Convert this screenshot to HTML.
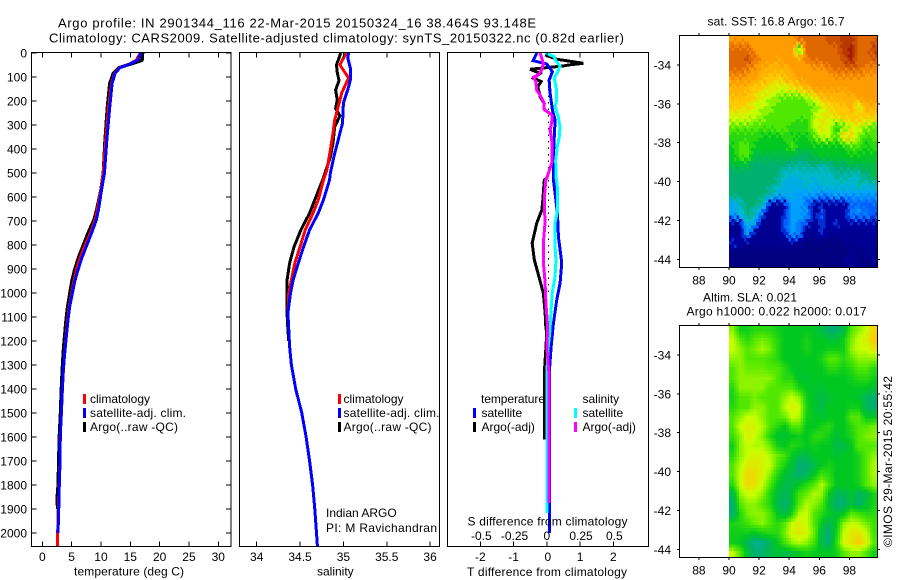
<!DOCTYPE html>
<html>
<head>
<meta charset="utf-8">
<title>Argo profile</title>
<style>
html,body{margin:0;padding:0;background:#fff;}
svg{display:block;}
text{font-family:"Liberation Sans",Arial,sans-serif;font-size:12px;fill:#000;}
</style>
</head>
<body>
<svg id="fig" xmlns="http://www.w3.org/2000/svg" width="900" height="580" viewBox="0 0 900 580">
  <rect x="0" y="0" width="900" height="580" fill="#fff"/>
  <text x="58" y="27.5" style="font-size:13px" textLength="478" lengthAdjust="spacing">Argo profile: IN 2901344_116 22-Mar-2015 20150324_16 38.464S 93.148E</text>
  <text x="49" y="42.5" style="font-size:13px" textLength="575" lengthAdjust="spacing">Climatology: CARS2009. Satellite-adjusted climatology: synTS_20150322.nc (0.82d earlier)</text>

  <g id="panelT"></g>
  <g id="panelS"></g>
  <g id="panelD"></g>
  <g id="mapSST"></g>
  <g id="mapSLA"></g>

  <text x="74" y="575.5" textLength="110" lengthAdjust="spacing">temperature (deg C)</text>
  <text x="317" y="575.5">salinity</text>
  <text x="467" y="576" textLength="160" lengthAdjust="spacing">T difference from climatology</text>
  <text x="467.5" y="525.5" textLength="160" lengthAdjust="spacing">S difference from climatology</text>

  <g>
    <rect x="83" y="394" width="3" height="10" fill="#f00"/>
    <text x="90" y="403">climatology</text>
    <rect x="83" y="408" width="3" height="10" fill="#00f"/>
    <text x="90" y="417" textLength="96" lengthAdjust="spacing">satellite-adj. clim.</text>
    <rect x="83" y="422" width="3" height="10" fill="#000"/>
    <text x="90" y="431" textLength="88" lengthAdjust="spacing">Argo(..raw -QC)</text>
  </g>
  <g>
    <rect x="338" y="394" width="3" height="10" fill="#f00"/>
    <text x="343.5" y="403">climatology</text>
    <rect x="338" y="408" width="3" height="10" fill="#00f"/>
    <text x="343.5" y="417" textLength="96" lengthAdjust="spacing">satellite-adj. clim.</text>
    <rect x="338" y="422" width="3" height="10" fill="#000"/>
    <text x="343.5" y="431" textLength="88" lengthAdjust="spacing">Argo(..raw -QC)</text>
  </g>
  <text x="326" y="517">Indian ARGO</text>
  <text x="326" y="532" textLength="111" lengthAdjust="spacing">PI: M Ravichandran</text>

  <g>
    <text x="481" y="403" textLength="64" lengthAdjust="spacing">temperature</text>
    <rect x="473" y="408" width="3" height="10" fill="#00f"/>
    <text x="481.5" y="417">satellite</text>
    <rect x="473" y="422" width="3" height="10" fill="#000"/>
    <text x="481.5" y="431">Argo(-adj)</text>
    <text x="582.5" y="403">salinity</text>
    <rect x="574" y="408" width="3" height="10" fill="#0ff"/>
    <text x="582.5" y="417">satellite</text>
    <rect x="574" y="422" width="3" height="10" fill="#f0f"/>
    <text x="582.5" y="431">Argo(-adj)</text>
  </g>

  <text x="707.5" y="25.5" textLength="137" lengthAdjust="spacing">sat. SST: 16.8 Argo: 16.7</text>
  <text x="703" y="301.5" textLength="94" lengthAdjust="spacing">Altim. SLA: 0.021</text>
  <text x="686.5" y="315.5" textLength="180" lengthAdjust="spacing">Argo h1000: 0.022 h2000: 0.017</text>
  <text transform="translate(892,547) rotate(-90)" textLength="171" lengthAdjust="spacing">©IMOS 29-Mar-2015 20:55:42</text>
</svg>

<script>
// ---------- profile data (depth in m) ----------
const depthTicks = [0,100,200,300,400,500,600,700,800,900,1000,1100,1200,1300,1400,1500,1600,1700,1800,1900,2000];
const tempTicks = [0,5,10,15,20,25,30];
const salTicks = [34,34.5,35,35.5,36];
const salTickLabels = ["34","34.5","35","35.5","36"];
const diffTicks = [-2,-1,0,1,2];
const sDiffTickLabels = ["-0.5","-0.25","0","0.25","0.5"];
const lonTicks = [88,90,92,94,96,98];
const latTicks = [34,36,38,40,42,44];

const tempArgoDepth = [0,30,42,50,62,85,127,224,361,500,570,650,696,750,800,850,904,950,1008,1060,1112,1237,1320,1400,1500,1600,1700,1800,1850,1900];
const tempArgo = [17.1,17.0,15.6,14.5,13.0,12.1,11.5,11.1,10.7,10.4,10,9.3,8.8,7.8,7.0,6.2,5.5,5.05,4.65,4.3,4.05,3.6,3.4,3.25,3.1,2.9,2.8,2.7,2.55,2.6];
const tempClimDepth = [0,30,45,62,85,127,224,361,500,570,650,696,750,800,850,904,950,1008,1060,1112,1237,1320,1400,1500,1600,1700,1800,1900,2000,2054];
const tempClim = [16.7,16.0,14.9,13.1,12.3,11.8,11.3,10.8,10.4,10,9.4,9.0,8.2,7.3,6.5,5.8,5.4,4.95,4.55,4.3,3.85,3.6,3.43,3.26,3.05,3.0,2.88,2.72,2.62,2.6];
const tempSatDepth = [0,30,45,62,85,127,224,361,500,570,650,696,750,800,850,904,950,1008,1060,1112,1237,1320,1400,1500,1600,1700,1800,1900,2000];
const tempSat = [16.8,16.3,15,13.2,12.4,11.9,11.5,11,10.6,10.1,9.6,9.2,8.4,7.6,6.8,6.08,5.55,5.06,4.65,4.38,3.87,3.58,3.41,3.24,3.07,3.02,2.9,2.8,2.68];

const salArgoDepth = [0,50,83,115,154,196,231,262,307,375,432,520,529,612,667,737,808,875,946,1000,1083,1154,1200];
const salArgo = [34.97,34.92,34.93,34.95,34.91,34.93,34.91,34.96,34.9,34.88,34.85,34.77,34.76,34.67,34.61,34.51,34.43,34.38,34.35,34.35,34.35,34.36,34.37];
const salClimDepth = [0,50,104,167,224,279,333,404,487,529,612,667,737,808,875,946,1000,1083,1154,1225];
const salClim = [35.03,34.96,35.06,34.98,34.94,34.9,34.88,34.85,34.81,34.77,34.71,34.65,34.56,34.5,34.44,34.4,34.37,34.36,34.37,34.38];
const salSatDepth = [0,20,63,113,154,208,292,362,433,500,529,612,667,737,808,875,946,1000,1083,1154,1225,1300,1400,1500,1600,1700,1800,1900,2000,2054];
const salSat = [35.06,35.05,35.08,35.08,35.05,35.0,34.99,34.94,34.89,34.85,34.84,34.77,34.71,34.61,34.54,34.48,34.42,34.39,34.36,34.37,34.38,34.40,34.45,34.52,34.57,34.61,34.645,34.67,34.69,34.70];

const dTempArgoDepth = [8,26,43,50,54,68,85,105,119,140,182,210,235,258,279,321,362,418,460,522,529,612,654,708,792,862,933,1000,1083,1142,1167,1335,1610];
const dTempArgo = [-0.05,0.30,1.10,0.65,0.5,-0.5,-0.2,-0.4,-0.17,-0.27,-0.2,-0.08,-0.08,0.15,0.16,0.10,0.15,0.16,0.15,0,-0.075,-0.12,-0.15,-0.30,-0.44,-0.375,-0.235,-0.105,-0.05,-0.03,0,-0.075,-0.075];
const dTempSatDepth = [0,32,46,78,113,168,238,279,362,432,515,529,667,766,875,958,1029,1125,1225,1320,1700,2000];
const dTempSat = [-0.30,-0.41,0,0.17,0.07,0.10,0.17,0.25,0.22,0.2,0.2,0.2,0.32,0.35,0.45,0.40,0.30,0.2,0.13,0.08,0.08,0.08];
const dSalSatDepth = [0,15,32,54,74,105,154,196,224,265,307,349,390,446,515,570,654,708,808,862,933,1000,1071,1154,1225,1335,1917];
const dSalSat = [-0.0135,0.056,0.067,0.099,0.086,0.056,0.074,0.074,0.062,0.086,0.099,0.094,0.079,0.067,0.069,0.082,0.082,0.062,0.062,0.069,0.062,0.041,0.032,0.024,0.011,0,0];
const dSalArgoDepth = [0,43,71,92,101,119,154,182,210,235,258,279,321,362,418,460,522,529,612,708,792,871,950,1050,1142,1225,1340,1875];
const dSalArgo = [-0.051,-0.026,-0.038,-0.068,-0.1,-0.083,-0.076,-0.044,-0.019,-0.021,0.037,0.041,0.024,0.037,0.041,0.037,0,-0.008,-0.019,-0.0135,-0.026,-0.026,-0.0135,-0.006,0.007,0,0.017,0.017];

// ---------- map data: colour-scale level per cell, north to south, west to east ----------
const sstLevels = [
[10,10,10,10,10,10,10,10,10,11,11,11,11,11.5,11.5,12,12,11,11,11],
[11,11,11,10,10,10,10,10,10,6.5,11,11,11,11,11,12,12.5,11,11,12],
[11,11,11.5,11,10,10,9.7,10,10,10,10.5,11,11,11,11,11.5,12.5,11,11,11],
[11,11,10.5,10,9.7,9.5,9.5,9.5,9.8,10,10,10,10,10.5,11,11,11,11,10.5,10.5],
[10,10,10,9.8,9.5,9,8.8,9.2,9.5,9.8,10,10,10,10,10,10,10,10,10,10],
[9.6,9.6,9.4,9,8.7,8.5,8.2,8.2,8.5,9,9.4,9.8,10,9.8,10,9.8,10,10,10,10],
[9.2,9.2,9,8.7,8.2,7.8,7.5,7,7,7,7.5,8.3,9.2,9.3,9.3,9.3,9.5,9.8,10,10],
[8.8,8.8,8.7,8.2,7.8,7.5,7,7,7,7,7,7,8,8.7,9.2,9.2,9.3,8,9.5,9.5],
[8.2,8.2,8.2,7.8,7.5,7,7,7,7,6.8,6.8,7.8,8.3,8.3,8.7,9,9.2,9.2,9,9],
[7.2,7,7,7,7,7,7.2,7,6.5,6.5,6.5,8,8.5,8,6.5,7,8,8,7.5,7],
[6.5,6.5,6.5,6.5,6.2,6,6,6.5,6.2,6.2,6.2,7,8,8,7,9,9,7.5,6.5,7],
[6.2,7,7,6.2,6,6,6,6,7,6,6,6,6,6,6.2,6.2,7,7,6.2,6.5],
[6,7,7,5.5,5.5,5.5,5.5,5.5,5.5,5.2,5.2,5.5,6,6,6,6,6,6,6,6],
[5.5,5.5,5.5,5,5,5,5,4.8,4.5,4.5,4.5,5,4.2,4.5,5,5,5.5,5.5,5.5,5.5],
[5,5,5,5,5,5,4.8,4,3.8,3.8,4,3.8,4,4,4.5,4.5,4.2,4.2,4.8,5.5],
[5,5,5,5,5,4.8,4.5,3.5,3.5,3.5,4,3.5,3.8,4,4,3.8,3.8,4.3,4,3.8],
[5,5,5,5,4.8,4.5,3.5,3.5,3.5,3,3,3,2.5,2.8,3,3,3,3,2.8,3],
[3,4,5,4.8,4.5,1,0.5,1,3,3,2,1,1,1,1,0.7,2,2,2,2],
[3,3.8,4.8,4.2,2,0.5,0.5,1.5,3,3,3,1,2,0.8,0.8,1,2.5,2.8,2.5,2],
[0.5,0.8,4,3,0.5,0.5,0.5,2,3,2.5,1.5,1,1.5,1,1.5,1,1,1,1,1],
[0.5,0.8,3,0.6,0.5,0.5,0.5,1.5,3,2.5,0.5,0.5,1.5,0.5,0.5,0.5,0.5,0.5,0.7,1],
[1.5,1,0.5,0.5,0.5,0.5,0.5,0.7,0.7,0.5,0,0,0,0,0,0.3,0.3,0.5,0.3,0.5],
[0,0,0,0,0,0,0,0,0,0,0,0,0,0.3,0,0,0.3,0,0.5,0.3],
[0,0,0,0,0,0,0,0,0,0,0,0,0,0,0,0.3,0.5,0.3,0,0.3]
];
const slaLevels = [
[7.5,6.2,6.2,6.5,6.5,6.5,6.2,6,6,6,6,6,5.5,5,5,5.5,7,7.5,8,8.8],
[8,7,6.5,7,7.3,7,6.5,6,6,6,6.3,6,6,5.7,5.7,6.2,7.3,8,8.3,9],
[8,7.5,7,7.3,7.7,7.3,6.5,6,6,6,6.3,6,6,6.2,6.2,6.2,7.5,8,8,8.5],
[7.5,7.5,7,7,7,6.8,6.5,6,6,6,6,6,6.3,7,7,6.5,7,7.5,7.5,7.5],
[7,7.5,7.2,7.2,7.2,7,7,6.5,6,5.8,6,6,6,6.5,6.5,6.2,6.5,7,7,6.5],
[7,7.5,7.5,7.5,7.5,7.5,7,6.5,6.5,5.8,5.8,6,6,6,6,6,6.2,6.5,6.5,6.2],
[6.5,7.5,7.5,7.5,7.5,7,7,7,7,6.3,6,5.8,5.8,6,6,6,6,6,6,5.7],
[6.3,7,7,7.3,7,7,7,7.5,8,7.5,6.2,5.8,5.5,5.8,6,6,6,5.8,5.3,5],
[6.5,7,7,7.5,7.5,7,7,7.8,8.3,8,6.3,5.8,5.5,6,6,6,6.2,6.2,5.3,5],
[7,7.5,8,8,7.5,7,7,7.2,8,7.8,6.2,6,5.8,6,6,6,7,7,6,6],
[7,8,8.3,8.2,7.8,7,6.5,6,7,7,6,6,6.3,6.5,6,6,6.5,7,7,7.3],
[6.7,7.5,8.3,8,7.5,6.5,5.8,5.8,6,6.2,6,6.5,6.5,6.2,5.7,6,6.3,7,7.3,7.5],
[6.2,7.5,8,7.8,7.8,7.3,6.3,6,6.5,6.3,6,6.2,6,6,5.5,5.5,6,7,7,7],
[6.5,7.5,8,8.2,8.2,7.8,7.2,6.8,6,5.5,5.5,6,6,6,5.7,6,6,6.3,7,7.5],
[7,7.8,8.4,8.4,8.2,8,7,6.3,5.7,5,5,5.5,6,6.3,6,6,6,6.3,7,7.8],
[7,8,8.7,8.7,8.2,7.5,6.5,5.7,5.5,5,5.3,6,6.8,6.5,6,6,6,6.3,7,7.8],
[6.5,8,8.7,8.5,8,7,6,5.5,5.5,6,6.5,7,7.8,6.8,6,6,6,6.2,7,7.5],
[5.3,7.5,8,8,7.5,6.5,5.7,5.2,5.8,6.8,7.2,7.8,7.5,6,5.3,5.3,5.8,5.3,5.5,6.3],
[5,7,7.5,7.5,7,6.5,5.5,5,5.7,7,7.8,7.5,7,5.7,5,5,5.7,5,5.7,6.3],
[5,6.5,7.3,7.5,7.5,7,6,5.5,6.3,7.8,8,7,6.5,6,5.7,6,7,6.8,6.5,6.5],
[6.3,6.5,6.8,7.2,7.5,7,6.5,7,8,8.3,8,7,6,5.3,6,7.5,8,7.8,7.3,6.8],
[6.2,6.2,6.2,6,6.3,6.5,6.5,7.3,8.2,8.4,8.2,7.2,5.5,5,6.2,8,8.4,8.5,8,6.8],
[6.2,6,5.3,4.7,4.7,5.3,6,6.8,7.5,7.8,7.5,6.8,5.5,5,6.5,8.2,8.5,8.9,8.3,7],
[8,7,5.7,5,5,5.5,5.7,5.5,5.7,6,6.3,6,6,6,6.2,7,7.5,7.5,7,6.2]
];
const levelColors = ["#000080","#0000a0","#0060ff","#00a0ff","#00b8c8","#00b070","#00c820","#50e800","#c8ff00","#ffc800","#ff9c00","#e06800","#b83800","#900000"];

// ---------- axis functions ----------
function yDepth(d){ return 53 + 0.24*d; }
function xTemp(t){ return 42.3 + 5.867*t; }
function xSal(s){ return 256.7 + 86.7*(s-34); }
function xDiffT(v){ return 546.8 + 33.25*v; }
function xDiffS(v){ return 546.8 + 133*v; }
function xLon(l){ return 729 + 15.05*(l-90); }
function ySST(l){ return 65 + 19.43*(l-34); }
function ySLA(l){ return 355 + 19.43*(l-34); }

const NS = "http://www.w3.org/2000/svg";
function mk(parent, tag, attrs){
  const el = document.createElementNS(NS, tag);
  for (const k in attrs) el.setAttribute(k, attrs[k]);
  parent.appendChild(el);
  return el;
}
function hexRgb(h){ return [parseInt(h.slice(1,3),16),parseInt(h.slice(3,5),16),parseInt(h.slice(5,7),16)]; }
function levelColor(v){
  const m = Math.max(0, Math.min(levelColors.length-1.001, v));
  const i = Math.floor(m), f = m-i;
  const a = hexRgb(levelColors[i]), b = hexRgb(levelColors[i+1]);
  return "rgb("+Math.round(a[0]+(b[0]-a[0])*f)+","+Math.round(a[1]+(b[1]-a[1])*f)+","+Math.round(a[2]+(b[2]-a[2])*f)+")";
}
function drawLabel(parent, str, x, y, anchor, name){
  const t = mk(parent, "text", {x:x, y:y, "text-anchor":anchor});
  
  
  t.textContent = str;
  return t;
}
function drawTick(parent, x1, y1, x2, y2, name){
  const l = mk(parent, "line", {x1:x1, y1:y1, x2:x2, y2:y2, stroke:"#000", "stroke-width":1, "shape-rendering":"crispEdges"});
  
  
}
function drawFrame(parent, x, y, w, h){
  const r = mk(parent, "rect", {x:x, y:y, width:w, height:h, fill:"none", stroke:"#000", "stroke-width":1, "shape-rendering":"crispEdges"});
  
  
}
function drawProfile(parent, depths, values, xFn, color, width, name){
  const pts = depths.map(function(d,i){ return xFn(values[i]).toFixed(2)+","+yDepth(d).toFixed(2); }).join(" ");
  const p = mk(parent, "polyline", {points:pts, fill:"none", stroke:color, "stroke-width":width, "stroke-linejoin":"miter", "shape-rendering":"crispEdges"});
  
  
}

const TOP = 52.5, BOT = 546.5;

// ---------- temperature panel ----------
(function(){
  const g = document.getElementById("panelT");
  drawProfile(g, tempArgoDepth, tempArgo, xTemp, "#000", 3.4, "temperature-argo-line");
  drawProfile(g, tempClimDepth, tempClim, xTemp, "#f00", 3, "temperature-climatology-line");
  drawProfile(g, tempSatDepth, tempSat, xTemp, "#00f", 3, "temperature-satellite-line");
  drawFrame(g, 31.5, TOP, 199.5, BOT-TOP);
  depthTicks.forEach(function(d){
    const y = yDepth(d);
    drawTick(g, 31.5, y, 36.5, y, "depth-tick-left");
    drawTick(g, 231, y, 226, y, "depth-tick-right");
    drawLabel(g, String(d), 27, y+4.5, "end", "depth-tick-label");
  });
  tempTicks.forEach(function(t){
    const x = xTemp(t);
    drawTick(g, x, TOP, x, TOP+5, "temperature-tick-top");
    drawTick(g, x, BOT, x, BOT-5, "temperature-tick-bottom");
    drawLabel(g, String(t), x, 561, "middle", "temperature-tick-label");
  });
})();

// ---------- salinity panel ----------
(function(){
  const g = document.getElementById("panelS");
  drawProfile(g, salArgoDepth, salArgo, xSal, "#000", 3, "salinity-argo-line");
  drawProfile(g, salClimDepth, salClim, xSal, "#f00", 3, "salinity-climatology-line");
  drawProfile(g, salSatDepth, salSat, xSal, "#00f", 3, "salinity-satellite-line");
  drawFrame(g, 239.5, TOP, 200, BOT-TOP);
  salTicks.forEach(function(s,i){
    const x = xSal(s);
    drawTick(g, x, TOP, x, TOP+5, "salinity-tick-top");
    drawTick(g, x, BOT, x, BOT-5, "salinity-tick-bottom");
    drawLabel(g, salTickLabels[i], x, 561, "middle", "salinity-tick-label");
  });
})();

// ---------- difference panel ----------
(function(){
  const g = document.getElementById("panelD");
  const z = mk(g, "line", {x1:xDiffT(0)+1.5, y1:yDepth(150), x2:xDiffT(0)+1.5, y2:yDepth(1000), stroke:"#000", "stroke-width":1, "stroke-dasharray":"1.5 5", "shape-rendering":"crispEdges"});
  
  
  drawProfile(g, dTempArgoDepth, dTempArgo, xDiffT, "#000", 3, "t-difference-argo-line");
  drawProfile(g, dTempSatDepth, dTempSat, xDiffT, "#00f", 3, "t-difference-satellite-line");
  drawProfile(g, dSalSatDepth, dSalSat, xDiffS, "#0ff", 3, "s-difference-satellite-line");
  drawProfile(g, dSalArgoDepth, dSalArgo, xDiffS, "#f0f", 3, "s-difference-argo-line");
  drawFrame(g, 447.5, TOP, 201, BOT-TOP);
  diffTicks.forEach(function(v,i){
    const x = xDiffT(v);
    drawTick(g, x, TOP, x, TOP+5, "difference-tick-top");
    drawTick(g, x, BOT, x, BOT-5, "difference-tick-bottom");
    drawLabel(g, String(v), x+(v===0?1:0), 561, "middle", "t-difference-tick-label");
    drawLabel(g, sDiffTickLabels[i], x+(v===0?0:1), 540, "middle", "s-difference-tick-label");
  });
})();

// ---------- maps ----------
const gridLon0 = 90, gridDLon = 0.4925, gridLat0 = 32.456, gridDLat = 0.498;

function drawMapFrame(g, yFn, top, bottom){
  const left = 679.5, right = 877.5;
  drawFrame(g, left, top, right-left, bottom-top);
  lonTicks.forEach(function(l){
    const x = xLon(l);
    drawTick(g, x, top, x, top-2.5, "longitude-tick-top");
    drawTick(g, x, bottom, x, bottom+2.5, "longitude-tick-bottom");
    drawLabel(g, String(l), x, bottom+17, "middle", "longitude-tick-label");
  });
  latTicks.forEach(function(l){
    const y = yFn(l);
    drawTick(g, left, y, left-2.5, y, "latitude-tick-left");
    drawTick(g, right, y, right+2.5, y, "latitude-tick-right");
    drawLabel(g, "-"+l, 671, y+4.5, "end", "latitude-tick-label");
  });
}

// Bilinear sample of a level grid at fractional row/column.
function sampleGrid(levels, fr, fc){
  const nr = levels.length, nc = levels[0].length;
  const r = Math.max(0, Math.min(nr-1.001, fr)), c = Math.max(0, Math.min(nc-1.001, fc));
  const r0 = Math.floor(r), c0 = Math.floor(c), dr = r-r0, dc = c-c0;
  return levels[r0][c0]*(1-dr)*(1-dc)+levels[r0][c0+1]*(1-dr)*dc+levels[r0+1][c0]*dr*(1-dc)+levels[r0+1][c0+1]*dr*dc;
}

(function(){
  const g = document.getElementById("mapSST");
  const sub = 3;
  const nr = sstLevels.length, nc = sstLevels[0].length;
  for (let r=0; r<nr*sub; r++){
    for (let c=0; c<nc*sub; c++){
      // staircase offset imitates the sheared pixel grid of the satellite image
      const jag = ((r+c*2)%3-1)*0.3;
      const raw = sampleGrid(sstLevels, (r+0.5)/sub-0.5+jag, (c+0.5)/sub-0.5);
      const v = Math.round(raw*2)/2;
      const x0 = xLon(gridLon0+c/sub*gridDLon), x1 = xLon(gridLon0+(c+1)/sub*gridDLon);
      const y0 = ySST(gridLat0+r/sub*gridDLat), y1 = ySST(gridLat0+(r+1)/sub*gridDLat);
      const cell = mk(g, "rect", {x:x0.toFixed(2), y:y0.toFixed(2), width:(x1-x0+0.4).toFixed(2), height:(y1-y0+0.4).toFixed(2), fill:levelColor(v), "shape-rendering":"crispEdges"});
      
      
    }
  }
  drawMapFrame(g, ySST, 35.5, 267.5);
})();

(function(){
  const g = document.getElementById("mapSLA");
  const sub = 3;
  const nr = slaLevels.length, nc = slaLevels[0].length;
  for (let r=0; r<nr*sub; r++){
    for (let c=0; c<nc*sub; c++){
      const v = sampleGrid(slaLevels, (r+0.5)/sub-0.5, (c+0.5)/sub-0.5);
      const x0 = xLon(gridLon0+c/sub*gridDLon), x1 = xLon(gridLon0+(c+1)/sub*gridDLon);
      const y0 = ySLA(gridLat0+r/sub*gridDLat), y1 = ySLA(gridLat0+(r+1)/sub*gridDLat);
      const cell = mk(g, "rect", {x:x0.toFixed(2), y:y0.toFixed(2), width:(x1-x0+0.4).toFixed(2), height:(y1-y0+0.4).toFixed(2), fill:levelColor(v), "shape-rendering":"crispEdges"});
      
      
    }
  }
  drawMapFrame(g, ySLA, 325.5, 557.5);
})();
</script>
</body>
</html>
